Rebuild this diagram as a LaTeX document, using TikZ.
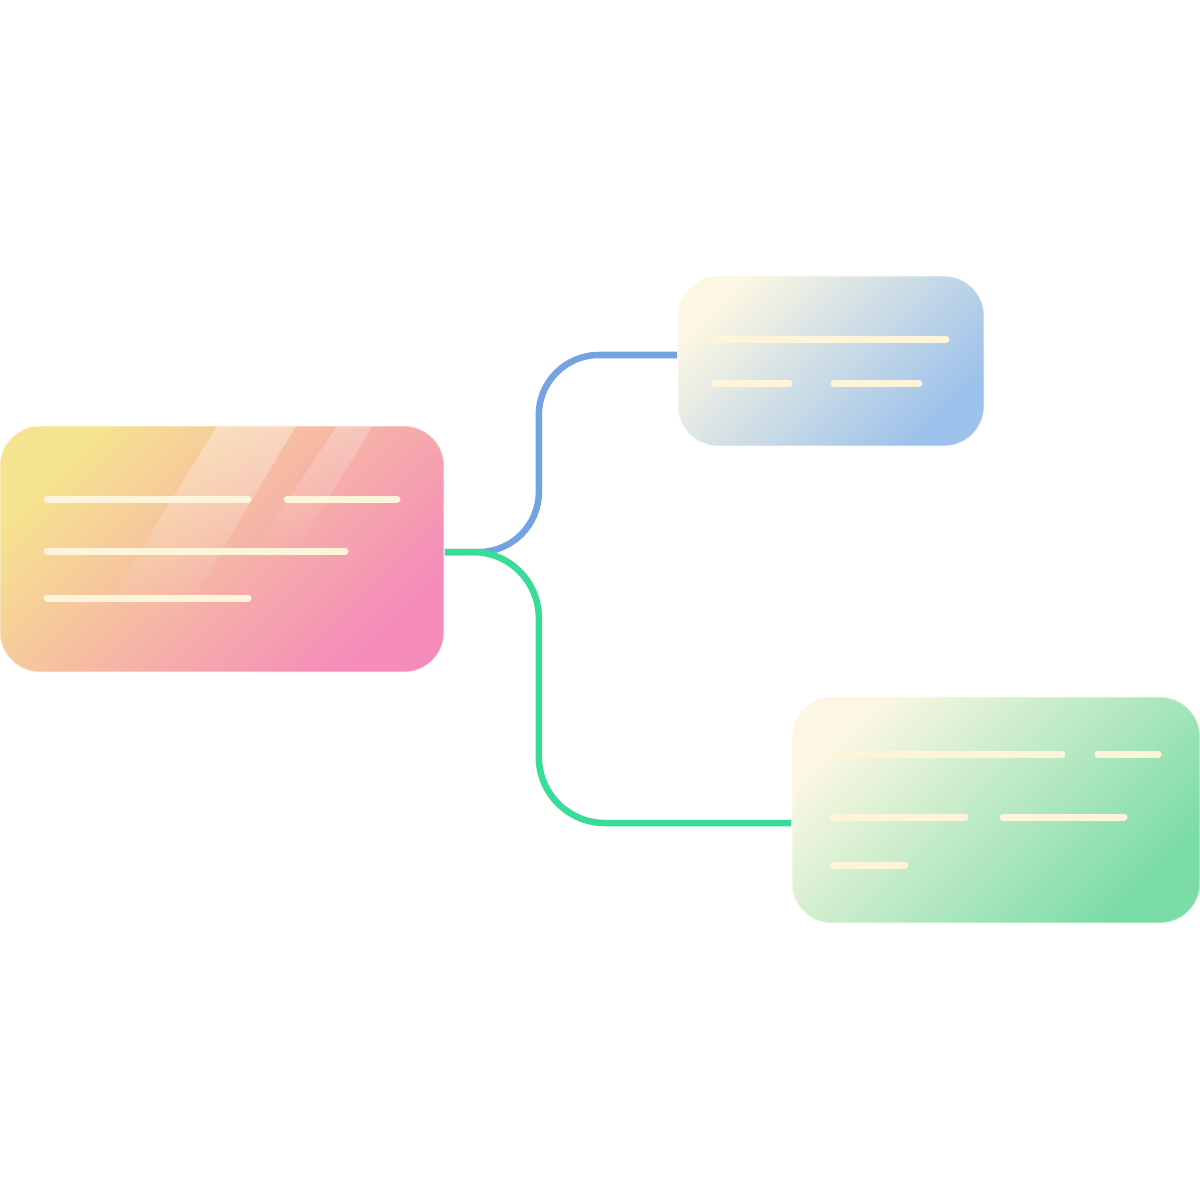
\documentclass[tikz,border=0pt]{standalone}
\usetikzlibrary{fadings}
\definecolor{ylw}{HTML}{F6E38F}
\definecolor{pch}{HTML}{F6BBA8}
\definecolor{pnk}{HTML}{F58BBA}
\definecolor{crm}{HTML}{FBF7E2}
\definecolor{bmid}{HTML}{D0DEEA}
\definecolor{blu}{HTML}{9CC1EA}
\definecolor{gmid}{HTML}{C6ECCC}
\definecolor{grn}{HTML}{7BDCA8}
\definecolor{barc}{HTML}{FDF4DA}
\definecolor{bline}{HTML}{74A3E2}
\definecolor{gline}{HTML}{38DC96}
\tikzset{
  card/.style={rounded corners=0.4cm, inner sep=0pt, draw=white, draw opacity=0.5, line width=0.4pt},
  bar/.style={draw=barc, line width=0.07cm, line cap=round},
  conn/.style={line width=0.065cm},
}
\begin{document}
\begin{tikzpicture}[x=0.01cm,y=-0.01cm]
\useasboundingbox (0,0) rectangle (1200,1200);
\node[card, minimum width=4.44cm, minimum height=2.46cm, top color=ylw, middle color=pch, bottom color=pnk, shading angle=45] (main) at (222,549) {};
\node[card, minimum width=3.06cm, minimum height=1.70cm, top color=crm, middle color=bmid, bottom color=blu, shading angle=45] (top) at (831,361) {};
\node[card, minimum width=4.08cm, minimum height=2.26cm, top color=crm, middle color=gmid, bottom color=grn, shading angle=45] (bot) at (996,810) {};
\draw[conn, bline, rounded corners=0.6cm] ([yshift=-0.03cm]main.east) -- ++(94,0) |- ([yshift=0.06cm]top.west);
\draw[conn, gline, rounded corners=0.66cm] ([yshift=-0.03cm]main.east) -- ++(94,0) |- ([yshift=-0.13cm]bot.west);
% highlight stripes on main card
\begin{scope}
\clip[rounded corners=0.4cm] (main.south west) rectangle (main.north east);
\fill[white, fill opacity=0.35, path fading=south] (217,426) -- (296,426) -- (180,620) -- (110,600) -- cycle;
\fill[white, fill opacity=0.25, path fading=south] (337,426) -- (373,426) -- (290,560) -- (255,550) -- cycle;
\end{scope}
% bars main
\draw[bar] (47,499) -- (248,499);
\draw[bar] (287,499) -- (397,499);
\draw[bar] (47,551) -- (345,551);
\draw[bar] (47,598) -- (248,598);
% bars top
\draw[bar] (714,339) -- (946,339);
\draw[bar] (714,383) -- (789,383);
\draw[bar] (834,383) -- (919,383);
% bars bottom
\draw[bar] (833,754) -- (1062,754);
\draw[bar] (1098,754) -- (1158,754);
\draw[bar] (833,817) -- (965,817);
\draw[bar] (1003,817) -- (1124,817);
\draw[bar] (833,865) -- (905,865);
\end{tikzpicture}
\end{document}
